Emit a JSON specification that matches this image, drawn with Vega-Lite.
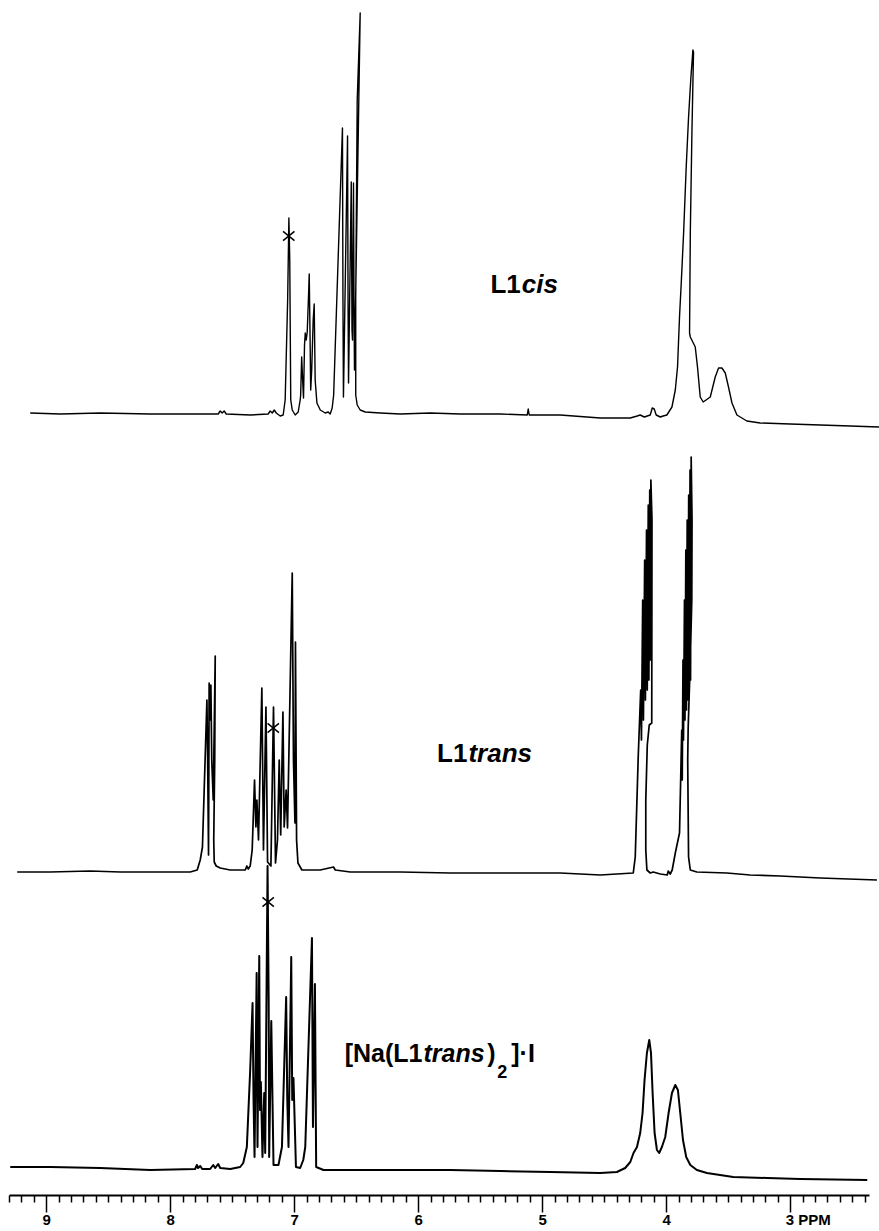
{
"$schema": "https://vega.github.io/schema/vega-lite/v6.json",
"width": 860, "height": 1195,
"autosize": "none",
"padding": {"left": 9, "right": 10, "top": 0, "bottom": 36},
"background": "white",
"config": {"view": {"stroke": null}},
"datasets": {
"cis": [
{"ppm":9.129,"intensity":0.5},{"ppm":8.887,"intensity":0.25},{"ppm":8.565,"intensity":0.5},{"ppm":8.161,"intensity":0.25},{"ppm":7.758,"intensity":0.25},{"ppm":7.613,"intensity":0.25},{"ppm":7.597,"intensity":1},{"ppm":7.581,"intensity":0.5},{"ppm":7.565,"intensity":1},{"ppm":7.548,"intensity":0.25},{"ppm":7.355,"intensity":0},{"ppm":7.21,"intensity":0.25},{"ppm":7.194,"intensity":1},{"ppm":7.177,"intensity":0.5},{"ppm":7.161,"intensity":1.25},{"ppm":7.145,"intensity":0.5},{"ppm":7.113,"intensity":-0.25},{"ppm":7.089,"intensity":0},{"ppm":7.073,"intensity":3.75},{"ppm":7.053,"intensity":28.75},{"ppm":7.043,"intensity":49.25},{"ppm":7.036,"intensity":38.75},{"ppm":7.028,"intensity":3.75},{"ppm":7.016,"intensity":1.25},{"ppm":6.992,"intensity":0},{"ppm":6.968,"intensity":0.75},{"ppm":6.952,"intensity":3.75},{"ppm":6.948,"intensity":5},{"ppm":6.94,"intensity":14.5},{"ppm":6.932,"intensity":8.75},{"ppm":6.925,"intensity":4.25},{"ppm":6.917,"intensity":17.5},{"ppm":6.911,"intensity":20.5},{"ppm":6.903,"intensity":18.75},{"ppm":6.895,"intensity":20.75},{"ppm":6.883,"intensity":31.25},{"ppm":6.879,"intensity":35.25},{"ppm":6.873,"intensity":21.25},{"ppm":6.867,"intensity":6.25},{"ppm":6.859,"intensity":11.25},{"ppm":6.847,"intensity":23.75},{"ppm":6.839,"intensity":27.75},{"ppm":6.831,"intensity":8.75},{"ppm":6.817,"intensity":3},{"ppm":6.79,"intensity":1.25},{"ppm":6.75,"intensity":0.5},{"ppm":6.726,"intensity":0.75},{"ppm":6.71,"intensity":0.25},{"ppm":6.694,"intensity":1.75},{"ppm":6.682,"intensity":5},{"ppm":6.611,"intensity":71.75},{"ppm":6.607,"intensity":28.75},{"ppm":6.603,"intensity":4.5},{"ppm":6.57,"intensity":69.75},{"ppm":6.566,"intensity":28.75},{"ppm":6.562,"intensity":8},{"ppm":6.54,"intensity":58.25},{"ppm":6.534,"intensity":21.25},{"ppm":6.53,"intensity":18.75},{"ppm":6.522,"intensity":58},{"ppm":6.518,"intensity":28.75},{"ppm":6.514,"intensity":11.25},{"ppm":6.468,"intensity":100.5},{"ppm":6.492,"intensity":78.75},{"ppm":6.504,"intensity":28.75},{"ppm":6.504,"intensity":5},{"ppm":6.492,"intensity":2.5},{"ppm":6.468,"intensity":1.25},{"ppm":6.427,"intensity":0.75},{"ppm":6.307,"intensity":0.5},{"ppm":6.145,"intensity":0.25},{"ppm":5.903,"intensity":0.5},{"ppm":5.661,"intensity":0.25},{"ppm":5.339,"intensity":0.25},{"ppm":5.121,"intensity":0},{"ppm":5.113,"intensity":1.5},{"ppm":5.105,"intensity":0},{"ppm":4.855,"intensity":0},{"ppm":4.532,"intensity":-0.75},{"ppm":4.29,"intensity":-0.75},{"ppm":4.234,"intensity":-0.25},{"ppm":4.21,"intensity":0},{"ppm":4.177,"intensity":-0.5},{"ppm":4.129,"intensity":0},{"ppm":4.113,"intensity":1.75},{"ppm":4.097,"intensity":1.5},{"ppm":4.081,"intensity":0},{"ppm":4.048,"intensity":-0.5},{"ppm":4.025,"intensity":-0.25},{"ppm":3.995,"intensity":0},{"ppm":3.954,"intensity":2},{"ppm":3.927,"intensity":6.25},{"ppm":3.909,"intensity":12},{"ppm":3.893,"intensity":24.5},{"ppm":3.879,"intensity":33},{"ppm":3.86,"intensity":45.5},{"ppm":3.839,"intensity":62},{"ppm":3.82,"intensity":74.5},{"ppm":3.801,"intensity":84.5},{"ppm":3.785,"intensity":91.25},{"ppm":3.78,"intensity":90.75},{"ppm":3.793,"intensity":70.5},{"ppm":3.806,"intensity":45.5},{"ppm":3.812,"intensity":20.5},{"ppm":3.806,"intensity":19.5},{"ppm":3.766,"intensity":17},{"ppm":3.748,"intensity":12},{"ppm":3.726,"intensity":4.5},{"ppm":3.702,"intensity":3.25},{"ppm":3.645,"intensity":4.5},{"ppm":3.605,"intensity":9.5},{"ppm":3.578,"intensity":11.75},{"ppm":3.551,"intensity":11.75},{"ppm":3.524,"intensity":10.5},{"ppm":3.498,"intensity":7},{"ppm":3.47,"intensity":3},{"ppm":3.43,"intensity":0},{"ppm":3.35,"intensity":-1.5},{"ppm":3.242,"intensity":-2},{"ppm":3.0,"intensity":-2.25},{"ppm":2.758,"intensity":-2.5},{"ppm":2.516,"intensity":-2.75},{"ppm":2.282,"intensity":-3}
],
"trans": [
{"ppm":9.234,"intensity":0},{"ppm":8.968,"intensity":0},{"ppm":8.645,"intensity":0.25},{"ppm":8.403,"intensity":0},{"ppm":8.081,"intensity":0},{"ppm":7.839,"intensity":0},{"ppm":7.782,"intensity":0.5},{"ppm":7.758,"intensity":3},{"ppm":7.74,"intensity":6.25},{"ppm":7.704,"intensity":43},{"ppm":7.698,"intensity":28},{"ppm":7.691,"intensity":4.25},{"ppm":7.686,"intensity":47.25},{"ppm":7.678,"intensity":38},{"ppm":7.672,"intensity":46.75},{"ppm":7.665,"intensity":28},{"ppm":7.653,"intensity":18},{"ppm":7.637,"intensity":54},{"ppm":7.641,"intensity":28},{"ppm":7.649,"intensity":8},{"ppm":7.645,"intensity":2.5},{"ppm":7.629,"intensity":1.5},{"ppm":7.597,"intensity":1},{"ppm":7.516,"intensity":0.5},{"ppm":7.436,"intensity":0.5},{"ppm":7.395,"intensity":0.5},{"ppm":7.382,"intensity":1.5},{"ppm":7.371,"intensity":0.75},{"ppm":7.355,"intensity":1.5},{"ppm":7.339,"intensity":5.5},{"ppm":7.32,"intensity":23},{"ppm":7.309,"intensity":11.25},{"ppm":7.301,"intensity":18},{"ppm":7.288,"intensity":8},{"ppm":7.261,"intensity":46},{"ppm":7.248,"intensity":5.5},{"ppm":7.228,"intensity":41.25},{"ppm":7.215,"intensity":2.5},{"ppm":7.188,"intensity":1.5},{"ppm":7.167,"intensity":41.25},{"ppm":7.151,"intensity":2.25},{"ppm":7.135,"intensity":8},{"ppm":7.121,"intensity":28},{"ppm":7.109,"intensity":9.25},{"ppm":7.091,"intensity":40},{"ppm":7.081,"intensity":11.25},{"ppm":7.065,"intensity":20.5},{"ppm":7.054,"intensity":11},{"ppm":7.016,"intensity":74.75},{"ppm":7.006,"intensity":28},{"ppm":6.994,"intensity":12.25},{"ppm":6.99,"intensity":57.5},{"ppm":6.981,"intensity":8},{"ppm":6.97,"intensity":2.25},{"ppm":6.938,"intensity":0.5},{"ppm":6.79,"intensity":0.5},{"ppm":6.683,"intensity":1.25},{"ppm":6.669,"intensity":0.5},{"ppm":6.548,"intensity":0},{"ppm":6.145,"intensity":0},{"ppm":5.742,"intensity":-0.25},{"ppm":5.339,"intensity":-0.25},{"ppm":4.855,"intensity":-0.25},{"ppm":4.532,"intensity":-0.75},{"ppm":4.266,"intensity":-0.25},{"ppm":4.25,"intensity":3.75},{"ppm":4.226,"intensity":28.75},{"ppm":4.206,"intensity":45.5},{"ppm":4.2,"intensity":33},{"ppm":4.19,"intensity":68},{"ppm":4.184,"intensity":38},{"ppm":4.174,"intensity":78},{"ppm":4.168,"intensity":43},{"ppm":4.159,"intensity":85.5},{"ppm":4.153,"intensity":45.5},{"ppm":4.145,"intensity":91.75},{"ppm":4.14,"intensity":48},{"ppm":4.133,"intensity":95.5},{"ppm":4.129,"intensity":53},{"ppm":4.124,"intensity":98},{"ppm":4.115,"intensity":88},{"ppm":4.117,"intensity":37.25},{"ppm":4.137,"intensity":36.75},{"ppm":4.153,"intensity":31.75},{"ppm":4.165,"intensity":18},{"ppm":4.165,"intensity":5.5},{"ppm":4.156,"intensity":0.5},{"ppm":4.129,"intensity":-0.25},{"ppm":4.105,"intensity":0},{"ppm":4.048,"intensity":-0.5},{"ppm":3.992,"intensity":-0.75},{"ppm":3.984,"intensity":0.25},{"ppm":3.968,"intensity":-0.5},{"ppm":3.952,"intensity":0.5},{"ppm":3.927,"intensity":4.75},{"ppm":3.893,"intensity":9.75},{"ppm":3.875,"intensity":35.5},{"ppm":3.871,"intensity":23},{"ppm":3.865,"intensity":53},{"ppm":3.861,"intensity":33},{"ppm":3.853,"intensity":68},{"ppm":3.849,"intensity":38},{"ppm":3.842,"intensity":80.5},{"ppm":3.837,"intensity":40.5},{"ppm":3.831,"intensity":88},{"ppm":3.826,"intensity":43},{"ppm":3.819,"intensity":94.25},{"ppm":3.815,"intensity":45.5},{"ppm":3.808,"intensity":100.5},{"ppm":3.804,"intensity":48},{"ppm":3.799,"intensity":103.75},{"ppm":3.792,"intensity":88},{"ppm":3.794,"intensity":68},{"ppm":3.806,"intensity":53},{"ppm":3.823,"intensity":36.25},{"ppm":3.827,"intensity":28},{"ppm":3.82,"intensity":3.75},{"ppm":3.806,"intensity":0.5},{"ppm":3.753,"intensity":0},{"ppm":3.511,"intensity":-0.25},{"ppm":3.323,"intensity":-0.75},{"ppm":3.081,"intensity":-1},{"ppm":2.758,"intensity":-1.5},{"ppm":2.301,"intensity":-2}
],
"complex": [
{"ppm":9.29,"intensity":0.25},{"ppm":8.968,"intensity":0.25},{"ppm":8.565,"intensity":0},{"ppm":8.161,"intensity":-0.5},{"ppm":7.799,"intensity":-0.25},{"ppm":7.785,"intensity":0.75},{"ppm":7.775,"intensity":0},{"ppm":7.758,"intensity":0.5},{"ppm":7.742,"intensity":-0.25},{"ppm":7.678,"intensity":-0.25},{"ppm":7.653,"intensity":0.75},{"ppm":7.637,"intensity":0},{"ppm":7.613,"intensity":1},{"ppm":7.597,"intensity":0},{"ppm":7.516,"intensity":-0.25},{"ppm":7.436,"intensity":0.25},{"ppm":7.411,"intensity":1.25},{"ppm":7.382,"intensity":5.25},{"ppm":7.355,"intensity":24.5},{"ppm":7.336,"intensity":41.25},{"ppm":7.328,"intensity":17},{"ppm":7.32,"intensity":2.75},{"ppm":7.303,"intensity":48.75},{"ppm":7.296,"intensity":5.25},{"ppm":7.282,"intensity":53},{"ppm":7.276,"intensity":14.5},{"ppm":7.269,"intensity":21.5},{"ppm":7.256,"intensity":2.75},{"ppm":7.242,"intensity":18.75},{"ppm":7.234,"intensity":3.75},{"ppm":7.215,"intensity":75.5},{"ppm":7.206,"intensity":42},{"ppm":7.202,"intensity":2.75},{"ppm":7.185,"intensity":36.75},{"ppm":7.167,"intensity":0.75},{"ppm":7.127,"intensity":0.75},{"ppm":7.099,"intensity":5.25},{"ppm":7.065,"intensity":42.75},{"ppm":7.056,"intensity":17},{"ppm":7.046,"intensity":5.25},{"ppm":7.024,"intensity":52.75},{"ppm":7.016,"intensity":17},{"ppm":7.006,"intensity":22.5},{"ppm":6.986,"intensity":0.25},{"ppm":6.952,"intensity":0},{"ppm":6.927,"intensity":2},{"ppm":6.911,"intensity":5.25},{"ppm":6.857,"intensity":57.5},{"ppm":6.849,"intensity":10.25},{"ppm":6.833,"intensity":46},{"ppm":6.823,"intensity":0.25},{"ppm":6.764,"intensity":-0.5},{"ppm":6.629,"intensity":-0.5},{"ppm":6.145,"intensity":-0.5},{"ppm":5.742,"intensity":-0.5},{"ppm":5.339,"intensity":-0.75},{"ppm":4.935,"intensity":-1},{"ppm":4.532,"intensity":-1.25},{"ppm":4.398,"intensity":-1},{"ppm":4.331,"intensity":0},{"ppm":4.29,"intensity":1.5},{"ppm":4.264,"intensity":3.75},{"ppm":4.236,"intensity":5.25},{"ppm":4.21,"intensity":8.75},{"ppm":4.191,"intensity":13.75},{"ppm":4.175,"intensity":22},{"ppm":4.156,"intensity":28.75},{"ppm":4.137,"intensity":32},{"ppm":4.123,"intensity":28.75},{"ppm":4.11,"intensity":18.75},{"ppm":4.094,"intensity":8.75},{"ppm":4.075,"intensity":4.5},{"ppm":4.057,"intensity":3.75},{"ppm":4.035,"intensity":5.25},{"ppm":4.008,"intensity":7.75},{"ppm":3.981,"intensity":13.75},{"ppm":3.954,"intensity":18.75},{"ppm":3.927,"intensity":20.75},{"ppm":3.906,"intensity":19.5},{"ppm":3.887,"intensity":13.75},{"ppm":3.865,"intensity":7},{"ppm":3.839,"intensity":2.75},{"ppm":3.806,"intensity":0.75},{"ppm":3.753,"intensity":-0.5},{"ppm":3.672,"intensity":-1.25},{"ppm":3.46,"intensity":-2.25},{"ppm":3.186,"intensity":-2.5},{"ppm":2.919,"intensity":-2.75},{"ppm":2.379,"intensity":-3}
],
"stars": [
{"spectrum":"cis","ppm":7.044,"intensity":44.75},
{"spectrum":"trans","ppm":7.169,"intensity":36},
{"spectrum":"complex","ppm":7.21,"intensity":66.5}
],
"labels": [
{"spectrum":"cis","role":"ligand","text":"L1","ppm":5.173,"intensity":30.6},
{"spectrum":"cis","role":"isomer","text":"cis","ppm":5.173,"intensity":30.6},
{"spectrum":"trans","role":"ligand","text":"L1","ppm":5.603,"intensity":27.6},
{"spectrum":"trans","role":"isomer","text":"trans","ppm":5.603,"intensity":27.6},
{"spectrum":"complex","role":"ligand","text":"[Na(L1","ppm":5.966,"intensity":26.5},
{"spectrum":"complex","role":"isomer","text":"trans","ppm":5.966,"intensity":26.5},
{"spectrum":"complex","role":"suffix","text":")","ppm":5.444,"intensity":26.5},
{"spectrum":"complex","role":"count","text":"2","ppm":5.363,"intensity":22.5},
{"spectrum":"complex","role":"suffix","text":"]·I","ppm":5.25,"intensity":26.5}
]
},
"encoding": {
"x": {"field": "ppm", "type": "quantitative",
 "scale": {"domain": [2.365, 9.3], "reverse": true, "nice": false, "zero": false},
 "axis": {
  "values": [2.4,2.5,2.6,2.7,2.8,2.9,3,3.1,3.2,3.3,3.4,3.5,3.6,3.7,3.8,3.9,4,4.1,4.2,4.3,4.4,4.5,4.6,4.7,4.8,4.9,5,5.1,5.2,5.3,5.4,5.5,5.6,5.7,5.8,5.9,6,6.1,6.2,6.3,6.4,6.5,6.6,6.7,6.8,6.9,7,7.1,7.2,7.3,7.4,7.5,7.6,7.7,7.8,7.9,8,8.1,8.2,8.3,8.4,8.5,8.6,8.7,8.8,8.9,9,9.1,9.2,9.3],
  "labelExpr": "datum.value == 3 ? '3  PPM' : (abs(datum.value - round(datum.value)) < 0.001 ? format(datum.value, 'd') : '')",
  "tickSize": {"condition": {"test": "abs(datum.value - round(datum.value)) < 0.001", "value": 17}, "value": 7},
  "labelAlign": {"condition": {"test": "datum.value == 3", "value": "left"}, "value": "center"},
  "labelOffset": {"condition": {"test": "datum.value == 3", "value": -5}, "value": 0},
  "labelFont": "Liberation Sans", "labelFontWeight": "bold", "labelFontSize": 15, "labelColor": "black",
  "labelPadding": 0, "labelFlush": false, "labelOverlap": false, "labelBound": false,
  "domainColor": "black", "domainWidth": 2, "tickColor": "black", "tickWidth": 1.5,
  "grid": false, "title": null
 }
}
},
"layer": [
{
 "layer": [
  {"data": {"name": "cis"}, "mark": {"type": "line", "stroke": "black", "strokeWidth": 1.4, "strokeJoin": "round"},
   "encoding": {"y": {"field": "intensity", "type": "quantitative", "scale": {"domain": [-195, 103.75], "nice": false, "zero": false}, "axis": null}, "order": {"value": null}}},
  {"data": {"name": "stars"}, "transform": [{"filter": "datum.spectrum == 'cis'"}],
   "mark": {"type": "point", "shape": "M-1,-0.8L1,0.8M-1,0.8L1,-0.8", "filled": false, "stroke": "black", "strokeWidth": 1.5, "size": 130, "opacity": 1},
   "encoding": {"y": {"field": "intensity", "type": "quantitative", "axis": null}}},
  {"data": {"name": "labels"}, "transform": [{"filter": "datum.spectrum == 'cis' && datum.role == 'ligand'"}],
   "mark": {"type": "text", "align": "right", "baseline": "alphabetic", "font": "Liberation Sans", "fontSize": 26, "fontWeight": "bold", "color": "black"},
   "encoding": {"y": {"field": "intensity", "type": "quantitative", "axis": null}, "text": {"field": "text"}}},
  {"data": {"name": "labels"}, "transform": [{"filter": "datum.spectrum == 'cis' && datum.role == 'isomer'"}],
   "mark": {"type": "text", "align": "left", "baseline": "alphabetic", "font": "Liberation Sans", "fontSize": 26, "fontWeight": "bold", "fontStyle": "italic", "color": "black", "dx": 1},
   "encoding": {"y": {"field": "intensity", "type": "quantitative", "axis": null}, "text": {"field": "text"}}}
 ]
},
{
 "layer": [
  {"data": {"name": "trans"}, "mark": {"type": "line", "stroke": "black", "strokeWidth": 1.7, "strokeJoin": "round"},
   "encoding": {"y": {"field": "intensity", "type": "quantitative", "scale": {"domain": [-80.75, 218], "nice": false, "zero": false}, "axis": null}, "order": {"value": null}}},
  {"data": {"name": "stars"}, "transform": [{"filter": "datum.spectrum == 'trans'"}],
   "mark": {"type": "point", "shape": "M-1,-0.8L1,0.8M-1,0.8L1,-0.8", "filled": false, "stroke": "black", "strokeWidth": 1.5, "size": 130, "opacity": 1},
   "encoding": {"y": {"field": "intensity", "type": "quantitative", "axis": null}}},
  {"data": {"name": "labels"}, "transform": [{"filter": "datum.spectrum == 'trans' && datum.role == 'ligand'"}],
   "mark": {"type": "text", "align": "right", "baseline": "alphabetic", "font": "Liberation Sans", "fontSize": 26, "fontWeight": "bold", "color": "black"},
   "encoding": {"y": {"field": "intensity", "type": "quantitative", "axis": null}, "text": {"field": "text"}}},
  {"data": {"name": "labels"}, "transform": [{"filter": "datum.spectrum == 'trans' && datum.role == 'isomer'"}],
   "mark": {"type": "text", "align": "left", "baseline": "alphabetic", "font": "Liberation Sans", "fontSize": 26, "fontWeight": "bold", "fontStyle": "italic", "color": "black", "dx": 1},
   "encoding": {"y": {"field": "intensity", "type": "quantitative", "axis": null}, "text": {"field": "text"}}}
 ]
},
{
 "layer": [
  {"data": {"name": "complex"}, "mark": {"type": "line", "stroke": "black", "strokeWidth": 2, "strokeJoin": "round"},
   "encoding": {"y": {"field": "intensity", "type": "quantitative", "scale": {"domain": [-6.75, 292], "nice": false, "zero": false}, "axis": null}, "order": {"value": null}}},
  {"data": {"name": "stars"}, "transform": [{"filter": "datum.spectrum == 'complex'"}],
   "mark": {"type": "point", "shape": "M-1,-0.8L1,0.8M-1,0.8L1,-0.8", "filled": false, "stroke": "black", "strokeWidth": 1.5, "size": 130, "opacity": 1},
   "encoding": {"y": {"field": "intensity", "type": "quantitative", "axis": null}}},
  {"data": {"name": "labels"}, "transform": [{"filter": "datum.spectrum == 'complex' && datum.role == 'ligand'"}],
   "mark": {"type": "text", "align": "right", "baseline": "alphabetic", "font": "Liberation Sans", "fontSize": 25, "fontWeight": "bold", "color": "black"},
   "encoding": {"y": {"field": "intensity", "type": "quantitative", "axis": null}, "text": {"field": "text"}}},
  {"data": {"name": "labels"}, "transform": [{"filter": "datum.spectrum == 'complex' && datum.role == 'isomer'"}],
   "mark": {"type": "text", "align": "left", "baseline": "alphabetic", "font": "Liberation Sans", "fontSize": 25, "fontWeight": "bold", "fontStyle": "italic", "color": "black", "dx": 1},
   "encoding": {"y": {"field": "intensity", "type": "quantitative", "axis": null}, "text": {"field": "text"}}},
  {"data": {"name": "labels"}, "transform": [{"filter": "datum.spectrum == 'complex' && datum.role == 'suffix'"}],
   "mark": {"type": "text", "align": "left", "baseline": "alphabetic", "font": "Liberation Sans", "fontSize": 25, "fontWeight": "bold", "color": "black"},
   "encoding": {"y": {"field": "intensity", "type": "quantitative", "axis": null}, "text": {"field": "text"}}},
  {"data": {"name": "labels"}, "transform": [{"filter": "datum.spectrum == 'complex' && datum.role == 'count'"}],
   "mark": {"type": "text", "align": "left", "baseline": "alphabetic", "font": "Liberation Sans", "fontSize": 18, "fontWeight": "bold", "color": "black"},
   "encoding": {"y": {"field": "intensity", "type": "quantitative", "axis": null}, "text": {"field": "text"}}}
 ]
}
],
"resolve": {"scale": {"y": "independent"}}
}
